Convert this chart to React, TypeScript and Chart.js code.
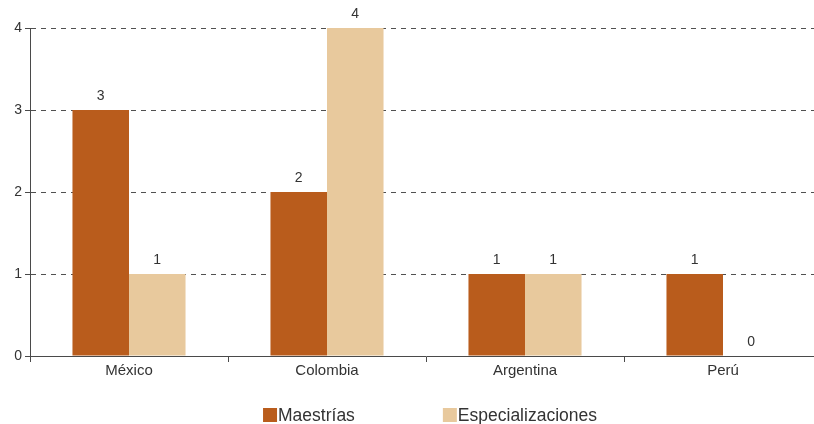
import React, { useEffect, useRef } from "react";
import { Chart, registerables } from "chart.js";

Chart.register(...registerables);

const categories = ["México", "Colombia", "Argentina", "Perú"];
const seriesNames = ["Maestrías", "Especializaciones"];
const maestrias = [3, 2, 1, 1];
const especializaciones = [1, 4, 1, 0];
const seriesColors = ["#B95C1C", "#E8C99D"];
const yTicks = [0, 1, 2, 3, 4];

const FONT = "'Liberation Sans', Arial, Helvetica, sans-serif";
const TEXT = "#333333";
const AXIS = "#4a4a4a";

const valueLabels = {
  id: "valueLabels",
  afterDatasetsDraw(chart: any) {
    const ctx = chart.ctx;
    ctx.save();
    ctx.font = `14px ${FONT}`;
    ctx.fillStyle = TEXT;
    ctx.textAlign = "center";
    ctx.textBaseline = "alphabetic";
    chart.data.datasets.forEach((ds: any, i: number) => {
      const meta = chart.getDatasetMeta(i);
      meta.data.forEach((bar: any, j: number) => {
        const v = ds.data[j];
        ctx.fillText(String(v), bar.x, bar.y - 10);
      });
    });
    ctx.restore();
  },
};

const customLegend = {
  id: "customLegend",
  afterDraw(chart: any) {
    const ctx = chart.ctx;
    ctx.save();
    ctx.font = `17.5px ${FONT}`;
    ctx.textBaseline = "middle";
    ctx.textAlign = "left";
    const box = 14;
    const gap = 88;
    const items = chart.data.datasets.map((ds: any) => ({
      label: ds.label,
      color: ds.backgroundColor,
      w: box + 1 + ctx.measureText(ds.label).width,
    }));
    const total = items.reduce((s: number, it: any) => s + it.w, 0) + gap * (items.length - 1);
    const ca = chart.chartArea;
    let x = (ca.left + ca.right) / 2 - total / 2 + 4;
    const yc = 415;
    items.forEach((it: any) => {
      ctx.fillStyle = it.color;
      ctx.fillRect(x, yc - box / 2, box, box);
      ctx.fillStyle = TEXT;
      ctx.fillText(it.label, x + box + 1, yc + 1);
      x += it.w + gap;
    });
    ctx.restore();
  },
};

export default function App() {
  const ref = useRef<HTMLCanvasElement | null>(null);

  useEffect(() => {
    if (!ref.current) return;
    const chart = new Chart(ref.current, {
      type: "bar",
      data: {
        labels: categories,
        datasets: [
          { label: seriesNames[0], data: maestrias, backgroundColor: seriesColors[0] },
          { label: seriesNames[1], data: especializaciones, backgroundColor: seriesColors[1] },
        ],
      },
      options: {
        responsive: false,
        animation: false,
        layout: { padding: { top: 28, right: 8, bottom: 38, left: 0 } },
        plugins: {
          legend: { display: false },
          tooltip: { enabled: false },
        },
        datasets: {
          bar: { categoryPercentage: 0.571, barPercentage: 1 },
        },
        scales: {
          x: {
            offset: true,
            grid: {
              offset: true,
              drawOnChartArea: false,
              tickLength: 6,
              tickColor: AXIS,
              tickWidth: 1,
            },
            border: { display: true, color: AXIS, width: 1 },
            ticks: { color: TEXT, font: { family: FONT, size: 15 }, padding: 0 },
            afterFit: (s: any) => {
              s.height = 30;
            },
          },
          y: {
            min: 0,
            max: 4,
            afterBuildTicks: (s: any) => {
              s.ticks = yTicks.map((v) => ({ value: v }));
            },
            grid: {
              color: (c: any) => (c.tick && c.tick.value === 0 ? "rgba(0,0,0,0)" : "#505050"),
              tickBorderDash: [1, 0],
              tickColor: AXIS,
              tickLength: 5,
              lineWidth: 1,
            },
            border: { display: true, color: AXIS, width: 1, dash: [5, 5] },
            ticks: { color: TEXT, font: { family: FONT, size: 14 }, padding: 3 },
            afterFit: (s: any) => {
              s.width = 30;
            },
          },
        },
      },
      plugins: [valueLabels, customLegend],
    });
    return () => chart.destroy();
  }, []);

  return (
    <div style={{ position: "fixed", left: 0, top: 0, width: 814, height: 424, overflow: "hidden", background: "#fff" }}>
      <canvas ref={ref} width={830} height={424} style={{ display: "block" }} />
    </div>
  );
}
